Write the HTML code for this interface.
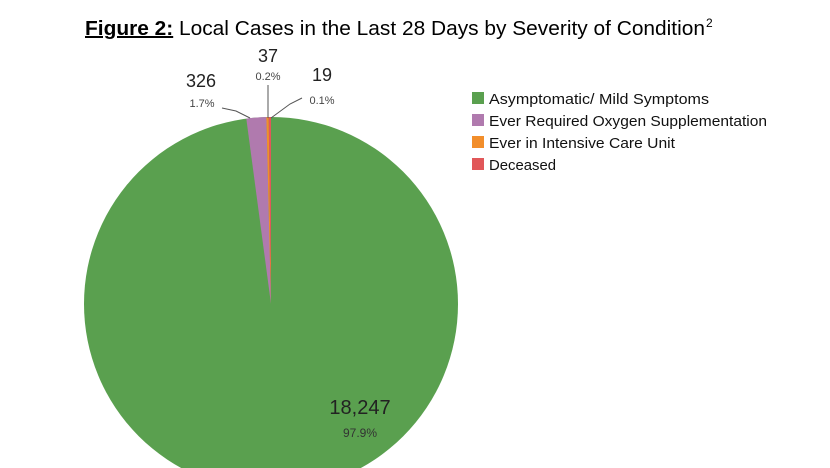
<!DOCTYPE html>
<html><head><meta charset="utf-8"><style>
html,body{margin:0;padding:0;background:#fff;}
svg{display:block;font-family:"Liberation Sans",Arial,sans-serif;}
</style></head><body>
<svg width="830" height="468" viewBox="0 0 830 468">
<text x="85" y="35" font-size="20" fill="#000" textLength="620" lengthAdjust="spacingAndGlyphs"><tspan font-weight="bold" text-decoration="underline">Figure 2:</tspan> Local Cases in the Last 28 Days by Severity of Condition</text>
<text x="706" y="27" font-size="12" fill="#000">2</text>
<circle cx="271" cy="304" r="187" fill="#5aa04f"/>
<path d="M271,304 L246.3,118.6 A187,187 0 0 1 266.4,117.06 Z" fill="#b07aae"/>
<path d="M271,304 L266.4,117.06 A187,187 0 0 1 268.7,117.01 Z" fill="#f28e2b"/>
<path d="M271,304 L268.7,117.01 A187,187 0 0 1 271,117 Z" fill="#e15759"/>
<g stroke="#555" stroke-width="1" fill="none">
<polyline points="222,108 236,111 250,118"/>
<line x1="268" y1="85" x2="268" y2="118"/>
<polyline points="302,98 290,104 271,118"/>
</g>
<g fill="#222" text-anchor="middle">
<text x="268" y="62" font-size="18">37</text>
<text x="268" y="80" font-size="11" fill="#444">0.2%</text>
<text x="201" y="87" font-size="18">326</text>
<text x="202" y="107" font-size="11" fill="#444">1.7%</text>
<text x="322" y="81" font-size="18">19</text>
<text x="322" y="104" font-size="11" fill="#444">0.1%</text>
<text x="360" y="414" font-size="20">18,247</text>
<text x="360" y="437" font-size="12" fill="#333">97.9%</text>
</g>
<rect x="472" y="92" width="12" height="12" fill="#5aa04f"/>
<rect x="472" y="114" width="12" height="12" fill="#b07aae"/>
<rect x="472" y="136" width="12" height="12" fill="#f28e2b"/>
<rect x="472" y="158" width="12" height="12" fill="#e15759"/>
<g font-size="15" fill="#111">
<text x="489" y="104" textLength="220" lengthAdjust="spacingAndGlyphs">Asymptomatic/ Mild Symptoms</text>
<text x="489" y="126" textLength="278" lengthAdjust="spacingAndGlyphs">Ever Required Oxygen Supplementation</text>
<text x="489" y="148" textLength="186" lengthAdjust="spacingAndGlyphs">Ever in Intensive Care Unit</text>
<text x="489" y="170" textLength="67" lengthAdjust="spacingAndGlyphs">Deceased</text>
</g>
</svg>
</body></html>
